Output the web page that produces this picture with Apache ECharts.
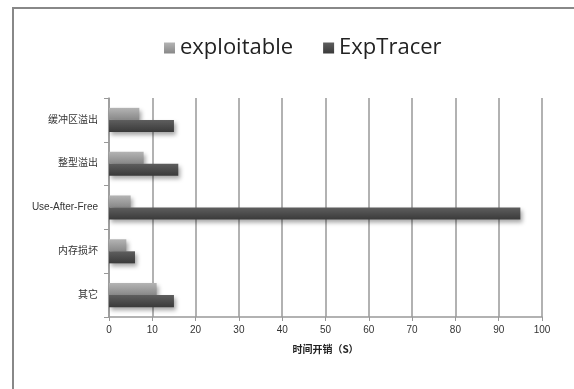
<!DOCTYPE html>
<html>
<head>
<meta charset="utf-8">
<script src="https://cdn.jsdelivr.net/npm/echarts@6/dist/echarts.min.js"></script>
<style>
  html, body { margin: 0; padding: 0; background: #fff; }
  #chart { width: 574px; height: 389px; }
</style>
</head>
<body>
<div id="chart"></div>
<script>
const categories = ['缓冲区溢出', '整型溢出', 'Use-After-Free', '内存损坏', '其它'];
const exploitableTimes = [7, 8, 5, 4, 11];
const expTracerTimes = [15, 16, 95, 6, 15];
const xTicks = [0, 100, 10];

const chart = echarts.init(document.getElementById('chart'));

const shadow = {
  shadowBlur: 4,
  shadowOffsetX: 2,
  shadowOffsetY: 3,
  shadowColor: 'rgba(0,0,0,0.35)'
};

const option = {
  animation: false,
  backgroundColor: '#fff',
  textStyle: { fontFamily: '"Liberation Sans", "Noto Sans CJK SC", sans-serif' },
  graphic: [{
    type: 'rect',
    shape: { x: 13, y: 8, width: 600, height: 420 },
    style: { fill: 'none', stroke: '#888', lineWidth: 2 },
    silent: true
  }],
  legend: {
    top: 32,
    left: 159,
    itemWidth: 11,
    itemHeight: 11,
    itemGap: 30,
    icon: 'rect',
    textStyle: { fontSize: 22, color: '#222', fontFamily: '"Open Sans", "Liberation Sans", sans-serif' },
    data: ['exploitable', 'ExpTracer']
  },
  grid: { left: 109, right: 32, top: 98, bottom: 72, containLabel: false },
  xAxis: {
    type: 'value',
    min: xTicks[0],
    max: xTicks[1],
    interval: xTicks[2],
    name: '时间开销（S）',
    nameLocation: 'middle',
    nameGap: 27,
    nameTextStyle: { fontSize: 10, fontWeight: 'bold', color: '#222', fontFamily: '"Noto Sans CJK SC", sans-serif' },
    axisLine: { show: true, lineStyle: { color: '#999', width: 1.5 } },
    axisTick: { show: true, length: 4, lineStyle: { color: '#999' } },
    axisLabel: { fontSize: 10, color: '#333', margin: 8 },
    splitLine: { show: true, lineStyle: { color: '#999', width: 1.5 } }
  },
  yAxis: {
    type: 'category',
    inverse: true,
    data: categories,
    axisLine: { show: true, lineStyle: { color: '#999', width: 1.5 } },
    axisTick: { show: true, length: 5, lineStyle: { color: '#999' } },
    axisLabel: { fontSize: 10, color: '#333', margin: 11, fontFamily: '"Liberation Sans", "Noto Sans CJK SC", sans-serif' },
    splitLine: { show: false }
  },
  series: [
    {
      name: 'exploitable',
      type: 'bar',
      data: exploitableTimes,
      barGap: '0%',
      barCategoryGap: '45%',
      itemStyle: Object.assign({
        color: new echarts.graphic.LinearGradient(0, 0, 0, 1, [
          { offset: 0, color: '#b4b4b4' },
          { offset: 1, color: '#888888' }
        ])
      }, shadow)
    },
    {
      name: 'ExpTracer',
      type: 'bar',
      data: expTracerTimes,
      itemStyle: Object.assign({
        color: new echarts.graphic.LinearGradient(0, 0, 0, 1, [
          { offset: 0, color: '#5e5e5e' },
          { offset: 1, color: '#3a3a3a' }
        ])
      }, shadow)
    }
  ]
};

chart.setOption(option);
</script>
</body>
</html>
